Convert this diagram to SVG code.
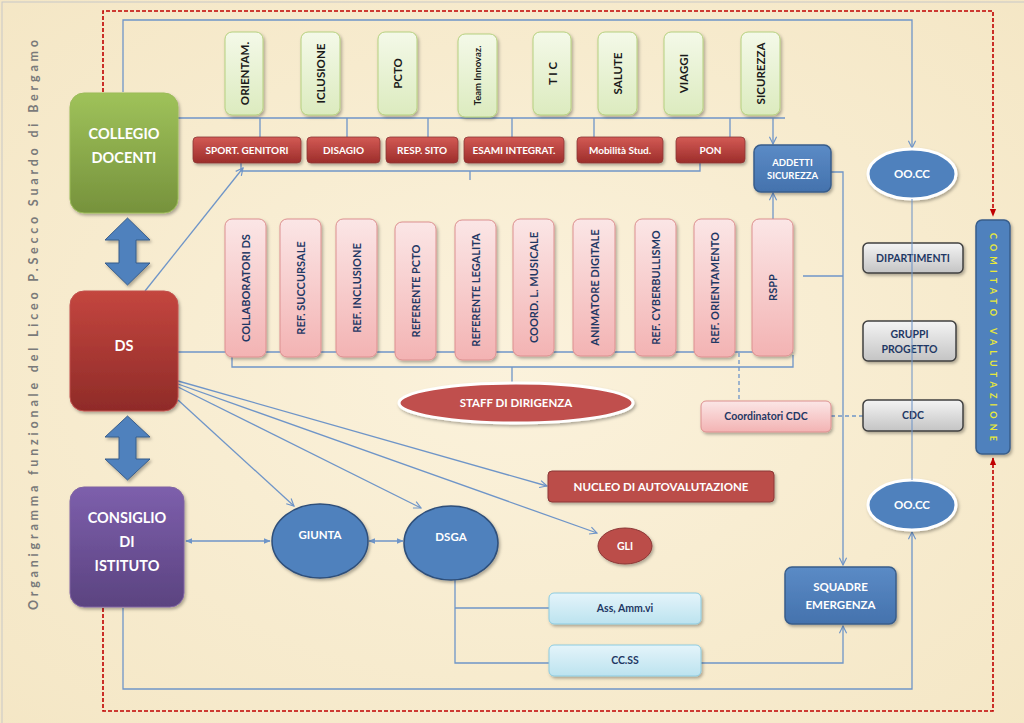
<svg xmlns="http://www.w3.org/2000/svg" width="1024" height="723" viewBox="0 0 1024 723">
<defs>
<style>
.t{font-family:Lato,"Open Sans","Liberation Sans",sans-serif;font-weight:bold;}
.w{fill:#ffffff}
.n{fill:#1f3864}
.k{fill:#1a1a1a}
.ln{stroke:#6f95c8;stroke-width:1.3;fill:none}
.dash{stroke:#c00000;stroke-width:1.6;fill:none;stroke-dasharray:4 2}
.sh{filter:url(#shadow)}
</style>
<filter id="shadow" x="-20%" y="-20%" width="150%" height="150%">
<feDropShadow dx="1.5" dy="2" stdDeviation="1.5" flood-color="#000" flood-opacity="0.3"/>
</filter>
<linearGradient id="gGreen" x1="0" y1="0" x2="0" y2="1"><stop offset="0" stop-color="#9fc25a"/><stop offset="1" stop-color="#76923c"/></linearGradient>
<linearGradient id="gRed" x1="0" y1="0" x2="0" y2="1"><stop offset="0" stop-color="#c4463f"/><stop offset="1" stop-color="#8f2b28"/></linearGradient>
<linearGradient id="gPurple" x1="0" y1="0" x2="0" y2="1"><stop offset="0" stop-color="#7d5fac"/><stop offset="1" stop-color="#5b4380"/></linearGradient>
<linearGradient id="gBlue" x1="0" y1="0" x2="0" y2="1"><stop offset="0" stop-color="#5b8bc6"/><stop offset="1" stop-color="#4472ad"/></linearGradient>
<linearGradient id="gLG" x1="0" y1="0" x2="0" y2="1"><stop offset="0" stop-color="#f4f9e8"/><stop offset="1" stop-color="#dcebbf"/></linearGradient>
<linearGradient id="gSR" x1="0" y1="0" x2="0" y2="1"><stop offset="0" stop-color="#d35a55"/><stop offset="1" stop-color="#9c2d2a"/></linearGradient>
<linearGradient id="gPink" x1="0" y1="0" x2="0" y2="1"><stop offset="0" stop-color="#fbe6e6"/><stop offset="1" stop-color="#f3b3b3"/></linearGradient>
<linearGradient id="gGray" x1="0" y1="0" x2="0" y2="1"><stop offset="0" stop-color="#f4f4f4"/><stop offset="1" stop-color="#c4c4c4"/></linearGradient>
<linearGradient id="gLB" x1="0" y1="0" x2="0" y2="1"><stop offset="0" stop-color="#e4f4fa"/><stop offset="1" stop-color="#bce3ef"/></linearGradient>
<radialGradient id="bg" cx="0.5" cy="0.5" r="0.75"><stop offset="0" stop-color="#fbf2dc"/><stop offset="1" stop-color="#f4e6c4"/></radialGradient>
<marker id="ar" viewBox="0 0 10 10" refX="9" refY="5" markerWidth="9" markerHeight="9" markerUnits="userSpaceOnUse" orient="auto-start-reverse">
<path d="M1,1 L9,5 L1,9" fill="none" stroke="#6f95c8" stroke-width="1.3"/>
</marker>
<marker id="tri" viewBox="0 0 10 10" refX="9" refY="5" markerWidth="7" markerHeight="7" markerUnits="userSpaceOnUse" orient="auto-start-reverse">
<path d="M0,1 L10,5 L0,9 Z" fill="#6f95c8"/>
</marker>
<marker id="rtri" viewBox="0 0 10 10" refX="9" refY="5" markerWidth="8" markerHeight="8" markerUnits="userSpaceOnUse" orient="auto">
<path d="M0,1 L10,5 L0,9 Z" fill="#c00000"/>
</marker>
</defs>

<rect x="0" y="0" width="1024" height="723" fill="url(#bg)"/>
<rect x="2" y="2" width="1030" height="730" fill="none" stroke="#c8c8c8" stroke-width="1"/>

<text class="t" x="33" y="325" transform="rotate(-90 33 325)" text-anchor="middle" dominant-baseline="central" font-size="12.5" font-weight="900" fill="#7a7a7a" textLength="570" lengthAdjust="spacing">Organigramma funzionale del Liceo P.Secco Suardo di Bergamo</text>

<g id="connectors">
<path class="dash" d="M103,92 V11 H993 V216" marker-end="url(#rtri)"/>
<path class="dash" d="M103,608 V711 H993 V458" marker-end="url(#rtri)"/>
<path class="ln" d="M123,92 V20 H912 V148" marker-end="url(#ar)"/>
<path class="ln" d="M123,608 V689 H912 V532" marker-end="url(#ar)"/>
<path class="ln" d="M178,118 H785"/>
<path class="ln" d="M260,118 V137 M347,118 V137 M428,118 V137 M512,118 V137 M594,118 V137 M730,118 V137"/>
<path class="ln" d="M773,118 V144" marker-end="url(#ar)"/>
<path class="ln" d="M241,163 V171 H700 V163 M470,171 V180"/>
<path class="ln" d="M145,291 L243,168" marker-end="url(#ar)"/>
<path class="ln" d="M178,352 H793"/>
<path class="ln" d="M232,355 V367 H793 V355 M512,367 V382"/>
<path class="ln" d="M773,219 V193" marker-end="url(#ar)"/>
<path class="ln" d="M831,172 H843 V565" marker-end="url(#ar)"/>
<path class="ln" d="M803,276 H843"/>
<path class="ln" d="M739,353 V401" stroke-dasharray="4 3"/>
<path class="ln" d="M831,416 H863" stroke-dasharray="4 3"/>
<path class="ln" d="M178,381 L547,486" marker-end="url(#ar)"/>
<path class="ln" d="M178,384 L597,533" marker-end="url(#ar)"/>
<path class="ln" d="M178,387 L421,508" marker-end="url(#ar)"/>
<path class="ln" d="M178,400 L294,506" marker-end="url(#ar)"/>
<path class="ln" d="M186,541 H270" marker-start="url(#tri)" marker-end="url(#tri)"/>
<path class="ln" d="M369,541 H403" marker-start="url(#tri)" marker-end="url(#tri)"/>
<path class="ln" d="M455,580 V663 H549 M455,608 H549"/>
<path class="ln" d="M701,663 H843 V626" marker-end="url(#ar)"/>
</g>

<g id="arrows-block" fill="#4f81bd" stroke="#385d8a" stroke-width="1" class="sh">
<path d="M127.5,218 L150,240 L136,240 L136,263 L150,263 L127.5,285 L105,263 L119,263 L119,240 L105,240 Z"/>
<path d="M127.5,416 L150,437 L136,437 L136,459 L150,459 L127.5,480 L105,459 L119,459 L119,437 L105,437 Z"/>
</g>

<g id="collegio"><rect class="sh" x="70" y="93" width="108" height="120" rx="14" fill="url(#gGreen)" stroke="#9bbb59" stroke-width="1"/>
<text class="t w" x="124" y="139" text-anchor="middle" font-size="14.5">COLLEGIO</text>
<text class="t w" x="124" y="163" text-anchor="middle" font-size="14.5">DOCENTI</text></g>
<g id="ds"><rect class="sh" x="70" y="291" width="108" height="120" rx="14" fill="url(#gRed)" stroke="#c0504d" stroke-width="1"/>
<text class="t w" x="124" y="351" text-anchor="middle" font-size="14.5">DS</text></g>
<g id="consiglio"><rect class="sh" x="70" y="487" width="114" height="120" rx="14" fill="url(#gPurple)" stroke="#8064a2" stroke-width="1"/>
<text class="t w" x="127" y="523" text-anchor="middle" font-size="14.5">CONSIGLIO</text>
<text class="t w" x="127" y="547" text-anchor="middle" font-size="14.5">DI</text>
<text class="t w" x="127" y="571" text-anchor="middle" font-size="14.5">ISTITUTO</text></g>

<g id="green-boxes" class="t" font-size="11.5">
<g id="orientam"><rect class="sh" x="225" y="32" width="38" height="83" rx="7" fill="url(#gLG)" stroke="#b5d07e"/><text class="k" x="244" y="73.5" transform="rotate(-90 244 73.5)" text-anchor="middle" dominant-baseline="central">ORIENTAM.</text></g>
<g id="iclusione"><rect class="sh" x="301" y="32" width="39" height="83" rx="7" fill="url(#gLG)" stroke="#b5d07e"/><text class="k" x="320.5" y="73.5" transform="rotate(-90 320.5 73.5)" text-anchor="middle" dominant-baseline="central">ICLUSIONE</text></g>
<g id="pcto"><rect class="sh" x="378" y="32" width="39" height="83" rx="7" fill="url(#gLG)" stroke="#b5d07e"/><text class="k" x="397.5" y="73.5" transform="rotate(-90 397.5 73.5)" text-anchor="middle" dominant-baseline="central">PCTO</text></g>
<g id="team"><rect class="sh" x="458" y="34" width="39" height="83" rx="7" fill="url(#gLG)" stroke="#b5d07e"/><text class="k" x="477.5" y="75.5" transform="rotate(-90 477.5 75.5)" text-anchor="middle" dominant-baseline="central" font-size="9.5">Team Innovaz.</text></g>
<g id="tic"><rect class="sh" x="533" y="32" width="38" height="83" rx="7" fill="url(#gLG)" stroke="#b5d07e"/><text class="k" x="552" y="73.5" transform="rotate(-90 552 73.5)" text-anchor="middle" dominant-baseline="central">T I C</text></g>
<g id="salute"><rect class="sh" x="598" y="32" width="39" height="83" rx="7" fill="url(#gLG)" stroke="#b5d07e"/><text class="k" x="617.5" y="73.5" transform="rotate(-90 617.5 73.5)" text-anchor="middle" dominant-baseline="central">SALUTE</text></g>
<g id="viaggi"><rect class="sh" x="664" y="32" width="39" height="83" rx="7" fill="url(#gLG)" stroke="#b5d07e"/><text class="k" x="683.5" y="73.5" transform="rotate(-90 683.5 73.5)" text-anchor="middle" dominant-baseline="central">VIAGGI</text></g>
<g id="sicurezza"><rect class="sh" x="741" y="32" width="39" height="83" rx="7" fill="url(#gLG)" stroke="#b5d07e"/><text class="k" x="760.5" y="73.5" transform="rotate(-90 760.5 73.5)" text-anchor="middle" dominant-baseline="central">SICUREZZA</text></g>
</g>

<g id="red-boxes" class="t" font-size="10">
<g id="sport"><rect class="sh" x="193" y="137" width="108" height="26" rx="4" fill="url(#gSR)" stroke="#8c3836" stroke-width="0.8"/><text class="w" x="247" y="153.5" text-anchor="middle">SPORT. GENITORI</text></g>
<g id="disagio"><rect class="sh" x="307" y="137" width="73" height="26" rx="4" fill="url(#gSR)" stroke="#8c3836" stroke-width="0.8"/><text class="w" x="343.5" y="153.5" text-anchor="middle">DISAGIO</text></g>
<g id="resp"><rect class="sh" x="386" y="137" width="72" height="26" rx="4" fill="url(#gSR)" stroke="#8c3836" stroke-width="0.8"/><text class="w" x="422" y="153.5" text-anchor="middle">RESP. SITO</text></g>
<g id="esami"><rect class="sh" x="464" y="137" width="100" height="26" rx="4" fill="url(#gSR)" stroke="#8c3836" stroke-width="0.8"/><text class="w" x="514" y="153.5" text-anchor="middle">ESAMI INTEGRAT.</text></g>
<g id="mobilita"><rect class="sh" x="577" y="137" width="86" height="26" rx="4" fill="url(#gSR)" stroke="#8c3836" stroke-width="0.8"/><text class="w" x="620" y="153.5" text-anchor="middle">Mobilità Stud.</text></g>
<g id="pon"><rect class="sh" x="676" y="137" width="69" height="26" rx="4" fill="url(#gSR)" stroke="#8c3836" stroke-width="0.8"/><text class="w" x="710.5" y="153.5" text-anchor="middle">PON</text></g>
</g>

<g id="addetti"><rect class="sh" x="754" y="145" width="77" height="47" rx="7" fill="url(#gBlue)" stroke="#385d8a" stroke-width="1.5"/>
<text class="t w" x="792.5" y="166" text-anchor="middle" font-size="9.5">ADDETTI</text>
<text class="t w" x="792.5" y="179" text-anchor="middle" font-size="9.5">SICUREZZA</text></g>

<g id="staff-boxes" class="t" font-size="11">
<g id="collab"><rect class="sh" x="225" y="219" width="41" height="138" rx="7" fill="url(#gPink)" stroke="#dc8f8f"/><text class="n" x="245.5" y="288" transform="rotate(-90 245.5 288)" text-anchor="middle" dominant-baseline="central">COLLABORATORI  DS</text></g>
<g id="succ"><rect class="sh" x="280" y="219" width="41" height="138" rx="7" fill="url(#gPink)" stroke="#dc8f8f"/><text class="n" x="300.5" y="288" transform="rotate(-90 300.5 288)" text-anchor="middle" dominant-baseline="central">REF. SUCCURSALE</text></g>
<g id="incl"><rect class="sh" x="336" y="219" width="41" height="138" rx="7" fill="url(#gPink)" stroke="#dc8f8f"/><text class="n" x="356.5" y="288" transform="rotate(-90 356.5 288)" text-anchor="middle" dominant-baseline="central">REF. INCLUSIONE</text></g>
<g id="refpcto"><rect class="sh" x="395" y="222" width="41" height="138" rx="7" fill="url(#gPink)" stroke="#dc8f8f"/><text class="n" x="415.5" y="291" transform="rotate(-90 415.5 291)" text-anchor="middle" dominant-baseline="central">REFERENTE  PCTO</text></g>
<g id="legal"><rect class="sh" x="455" y="220" width="41" height="140" rx="7" fill="url(#gPink)" stroke="#dc8f8f"/><text class="n" x="475.5" y="290" transform="rotate(-90 475.5 290)" text-anchor="middle" dominant-baseline="central">REFERENTE LEGALITA</text></g>
<g id="musicale"><rect class="sh" x="513" y="219" width="41" height="137" rx="7" fill="url(#gPink)" stroke="#dc8f8f"/><text class="n" x="533.5" y="287.5" transform="rotate(-90 533.5 287.5)" text-anchor="middle" dominant-baseline="central">COORD. L. MUSICALE</text></g>
<g id="animatore"><rect class="sh" x="573" y="219" width="42" height="137" rx="7" fill="url(#gPink)" stroke="#dc8f8f"/><text class="n" x="594" y="287.5" transform="rotate(-90 594 287.5)" text-anchor="middle" dominant-baseline="central">ANIMATORE DIGITALE</text></g>
<g id="cyber"><rect class="sh" x="635" y="219" width="41" height="137" rx="7" fill="url(#gPink)" stroke="#dc8f8f"/><text class="n" x="655.5" y="287.5" transform="rotate(-90 655.5 287.5)" text-anchor="middle" dominant-baseline="central">REF. CYBERBULLISMO</text></g>
<g id="reforient"><rect class="sh" x="694" y="219" width="41" height="138" rx="7" fill="url(#gPink)" stroke="#dc8f8f"/><text class="n" x="714.5" y="288" transform="rotate(-90 714.5 288)" text-anchor="middle" dominant-baseline="central">REF. ORIENTAMENTO</text></g>
<g id="rspp"><rect class="sh" x="752" y="219" width="41" height="137" rx="7" fill="url(#gPink)" stroke="#dc8f8f"/><text class="n" x="772.5" y="287.5" transform="rotate(-90 772.5 287.5)" text-anchor="middle" dominant-baseline="central">RSPP</text></g>
</g>

<g id="staff"><ellipse class="sh" cx="516" cy="403" rx="117" ry="20" fill="#c0504d" stroke="#ffffff" stroke-width="3"/>
<text class="t w" x="516" y="407" text-anchor="middle" font-size="11.5">STAFF DI DIRIGENZA</text></g>

<g id="occ-top"><ellipse class="sh" cx="912" cy="174" rx="44" ry="25" fill="#4f81bd" stroke="#ffffff" stroke-width="3"/>
<text class="t w" x="912" y="178" text-anchor="middle" font-size="11.5">OO.CC</text></g>
<g id="occ-bottom"><ellipse class="sh" cx="912" cy="505" rx="44" ry="25" fill="#4f81bd" stroke="#ffffff" stroke-width="3"/>
<text class="t w" x="912" y="509" text-anchor="middle" font-size="11.5">OO.CC</text></g>

<g id="dipartimenti"><rect class="sh" x="863" y="243" width="100" height="30" rx="5" fill="url(#gGray)" stroke="#404040" stroke-width="1.5"/>
<text class="t n" x="913" y="261.5" text-anchor="middle" font-size="10.5">DIPARTIMENTI</text></g>
<g id="gruppi"><rect class="sh" x="863" y="321" width="93" height="40" rx="5" fill="url(#gGray)" stroke="#404040" stroke-width="1.5"/>
<text class="t n" x="909.5" y="338" text-anchor="middle" font-size="10.5">GRUPPI</text>
<text class="t n" x="909.5" y="353" text-anchor="middle" font-size="10.5">PROGETTO</text></g>
<g id="cdc"><rect class="sh" x="863" y="400" width="100" height="31" rx="5" fill="url(#gGray)" stroke="#404040" stroke-width="1.5"/>
<text class="t n" x="913" y="419" text-anchor="middle" font-size="10.5">CDC</text></g>
<path class="ln" d="M912,199 V480" stroke-opacity="0.8"/>

<g id="coordinatori"><rect class="sh" x="701" y="401" width="130" height="31" rx="5" fill="url(#gPink)" stroke="#dc8f8f"/>
<text class="t n" x="766" y="420" text-anchor="middle" font-size="10.5">Coordinatori CDC</text></g>

<g id="comitato"><rect class="sh" x="976" y="220" width="34" height="234" rx="6" fill="#4f81bd" stroke="#385d8a" stroke-width="1.5"/>
<text class="t" x="993" y="337" transform="rotate(90 993 337)" text-anchor="middle" dominant-baseline="central" font-size="9" fill="#e8e83a" textLength="208" lengthAdjust="spacing">COMITATO VALUTAZIONE</text></g>

<g id="nucleo"><rect class="sh" x="548" y="471" width="226" height="31" rx="4" fill="#bb4d4a" stroke="#8c3836" stroke-width="1"/>
<text class="t w" x="661" y="490.5" text-anchor="middle" font-size="11.5">NUCLEO DI AUTOVALUTAZIONE</text></g>
<g id="gli"><ellipse class="sh" cx="625" cy="546" rx="27" ry="18" fill="#bb4d4a" stroke="#8c3836" stroke-width="1"/>
<text class="t w" x="625" y="550" text-anchor="middle" font-size="10.5">GLI</text></g>
<g id="giunta"><ellipse class="sh" cx="320" cy="541" rx="48" ry="37" fill="#4f81bd" stroke="#2f4f7a" stroke-width="1.5"/>
<text class="t w" x="320" y="539" text-anchor="middle" font-size="11.5">GIUNTA</text></g>
<g id="dsga"><ellipse class="sh" cx="451" cy="543" rx="47" ry="37" fill="#4f81bd" stroke="#2f4f7a" stroke-width="1.5"/>
<text class="t w" x="451" y="541" text-anchor="middle" font-size="11.5">DSGA</text></g>

<g id="ass"><rect class="sh" x="549" y="593" width="152" height="31" rx="5" fill="url(#gLB)" stroke="#8ccbe0"/>
<text class="t n" x="625" y="612" text-anchor="middle" font-size="10.5">Ass, Amm.vi</text></g>
<g id="ccss"><rect class="sh" x="549" y="645" width="152" height="31" rx="5" fill="url(#gLB)" stroke="#8ccbe0"/>
<text class="t n" x="625" y="664" text-anchor="middle" font-size="10.5">CC.SS</text></g>
<g id="squadre"><rect class="sh" x="785" y="567" width="111" height="57" rx="7" fill="url(#gBlue)" stroke="#385d8a" stroke-width="1.5"/>
<text class="t w" x="840.5" y="591" text-anchor="middle" font-size="11.5">SQUADRE</text>
<text class="t w" x="840.5" y="609" text-anchor="middle" font-size="11.5">EMERGENZA</text></g>
</svg>
